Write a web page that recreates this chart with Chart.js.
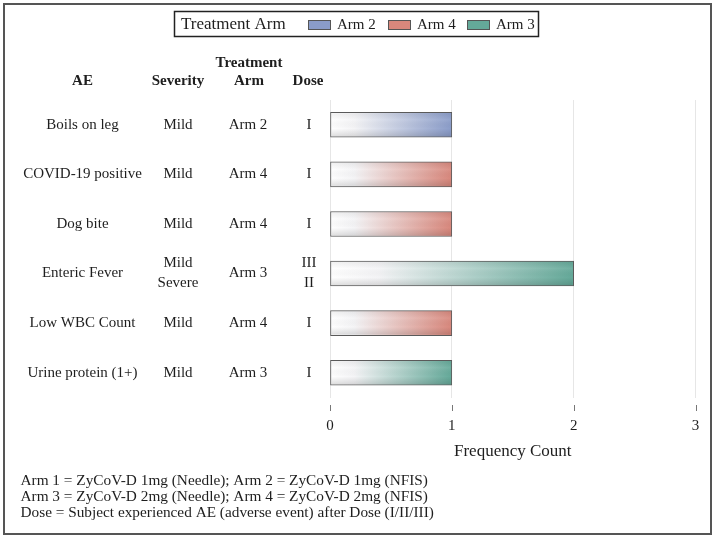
<!DOCTYPE html>
<html>
<head>
<meta charset="utf-8">
<script src="https://cdn.jsdelivr.net/npm/chart.js@4/dist/chart.umd.min.js"></script>
<style>
  html, body { margin: 0; padding: 0; background: #fff; }
  #wrap { width: 714px; height: 538px; }
</style>
</head>
<body>
<div id="wrap"><canvas id="aeChart" width="714" height="538"></canvas></div>
<script>
// data
const aeTerms = ["Boils on leg", "COVID-19 positive", "Dog bite", "Enteric Fever", "Low WBC Count", "Urine protein (1+)"];
const severity = [["Mild"], ["Mild"], ["Mild"], ["Mild", "Severe"], ["Mild"], ["Mild"]];
const arms = ["Arm 2", "Arm 4", "Arm 4", "Arm 3", "Arm 4", "Arm 3"];
const doses = [["I"], ["I"], ["I"], ["III", "II"], ["I"], ["I"]];
const counts = [1, 1, 1, 2, 1, 1];
const xTicks = [0, 1, 2, 3];
const footnotes = [
  "Arm 1 = ZyCoV-D 1mg (Needle); Arm 2 = ZyCoV-D 1mg (NFIS)",
  "Arm 3 = ZyCoV-D 2mg (Needle); Arm 4 = ZyCoV-D 2mg (NFIS)",
  "Dose = Subject experienced AE (adverse event) after Dose (I/II/III)"
];

const armColors = { "Arm 2": "#8a9cc9", "Arm 4": "#d8877c", "Arm 3": "#64a999" };
const legendArms = arms.filter((a, i) => arms.indexOf(a) === i);

const SERIF = "'Liberation Serif', 'Times New Roman', serif";
const TXT = "#1e1e1e";

// left table, legend, ticks, footnotes, frame
const tablePlugin = {
  id: "tablePlugin",
  afterDatasetsDraw(chart) {
    const c = chart.ctx;
    // soft top/bottom shading on the bars
    chart.getDatasetMeta(0).data.forEach(bar => {
      const top = bar.y - bar.height / 2, bot = bar.y + bar.height / 2;
      const g = c.createLinearGradient(0, top, 0, bot);
      g.addColorStop(0, "rgba(0,0,0,0.06)");
      g.addColorStop(0.3, "rgba(255,255,255,0.08)");
      g.addColorStop(0.65, "rgba(0,0,0,0)");
      g.addColorStop(1, "rgba(0,0,0,0.14)");
      c.save();
      c.fillStyle = g;
      c.fillRect(Math.min(bar.base, bar.x) + 1, top + 1, Math.abs(bar.x - bar.base) - 2, bar.height - 2);
      c.restore();
    });
  },
  afterDraw(chart) {
    const c = chart.ctx;
    const x = chart.scales.x, y = chart.scales.y;
    c.save();
    c.fillStyle = TXT;
    c.textAlign = "center";
    c.textBaseline = "middle";

    // headers
    c.font = "bold 15px " + SERIF;
    c.fillText("AE", 82.5, 81);
    c.fillText("Severity", 178, 81);
    c.fillText("Treatment", 249, 63);
    c.fillText("Arm", 249, 81);
    c.fillText("Dose", 308, 81);

    // rows
    c.font = "15px " + SERIF;
    aeTerms.forEach((term, i) => {
      const cy = y.getPixelForValue(i);
      c.fillText(term, 82.5, cy);
      c.fillText(arms[i], 248, cy);
      const sev = severity[i], ds = doses[i];
      sev.forEach((s, k) => c.fillText(s, 178, cy + (k - (sev.length - 1) / 2) * 20));
      ds.forEach((d, k) => c.fillText(d, 309, cy + (k - (ds.length - 1) / 2) * 20));
    });

    // tick marks below the plot
    c.strokeStyle = "#777";
    c.lineWidth = 1;
    xTicks.forEach(v => {
      const px = Math.round(x.getPixelForValue(v)) + 0.5;
      c.beginPath();
      c.moveTo(px, 405);
      c.lineTo(px, 411);
      c.stroke();
    });

    // axis title
    c.font = "17px " + SERIF;
    c.fillText("Frequency Count", (chart.chartArea.left + chart.chartArea.right) / 2, 452);

    // footnotes
    c.textAlign = "left";
    c.font = "15.3px " + SERIF;
    footnotes.forEach((t, k) => c.fillText(t, 20.5, 481 + k * 16));

    // legend
    c.strokeStyle = "#222";
    c.lineWidth = 1.5;
    c.strokeRect(174.5, 11.5, 364, 25);
    c.font = "17px " + SERIF;
    c.fillText("Treatment Arm", 181, 25);
    const swX = [308, 388, 467];
    legendArms.forEach((a, k) => {
      const sx = swX[k];
      c.fillStyle = armColors[a];
      c.fillRect(sx, 20, 23, 10);
      c.strokeStyle = "#555";
      c.lineWidth = 1;
      c.strokeRect(sx + 0.5, 20.5, 22, 9);
      c.fillStyle = TXT;
      c.font = "15px " + SERIF;
      c.fillText(a, sx + 29, 25.5);
    });

    // outer frame
    c.strokeStyle = "#555";
    c.lineWidth = 2;
    c.strokeRect(4, 4, 707, 530);
    c.restore();
  }
};

new Chart(document.getElementById("aeChart"), {
  type: "bar",
  data: {
    labels: aeTerms,
    datasets: [{
      label: "Frequency Count",
      data: counts,
      barThickness: 25,
      borderWidth: 1,
      borderColor: "#5a5a5a",
      borderSkipped: false,
      backgroundColor: ctx => {
        const color = armColors[arms[ctx.dataIndex]];
        const chart = ctx.chart;
        if (!chart.chartArea || ctx.type !== "data") return color;
        const x = chart.scales.x;
        const g = chart.ctx.createLinearGradient(x.getPixelForValue(0), 0, x.getPixelForValue(counts[ctx.dataIndex]), 0);
        g.addColorStop(0, "#ffffff");
        g.addColorStop(0.2, "#f4f4f6");
        g.addColorStop(1, color);
        return g;
      }
    }]
  },
  options: {
    indexAxis: "y",
    responsive: false,
    animation: false,
    devicePixelRatio: 1,
    layout: { padding: { left: 330, right: 18.5, top: 100, bottom: 0 } },
    plugins: { legend: { display: false }, tooltip: { enabled: false } },
    scales: {
      x: {
        min: 0,
        max: 3,
        afterFit: s => { s.height = 140.5; },
        afterBuildTicks: s => { s.ticks = xTicks.map(v => ({ value: v })); },
        border: { display: false },
        grid: { color: "#e6e6e6", drawTicks: true, tickLength: 19, tickColor: "rgba(0,0,0,0)", lineWidth: 1 },
        ticks: { color: TXT, font: { family: SERIF, size: 15 }, padding: 1 }
      },
      y: {
        display: false
      }
    }
  },
  plugins: [tablePlugin]
});
</script>
</body>
</html>
